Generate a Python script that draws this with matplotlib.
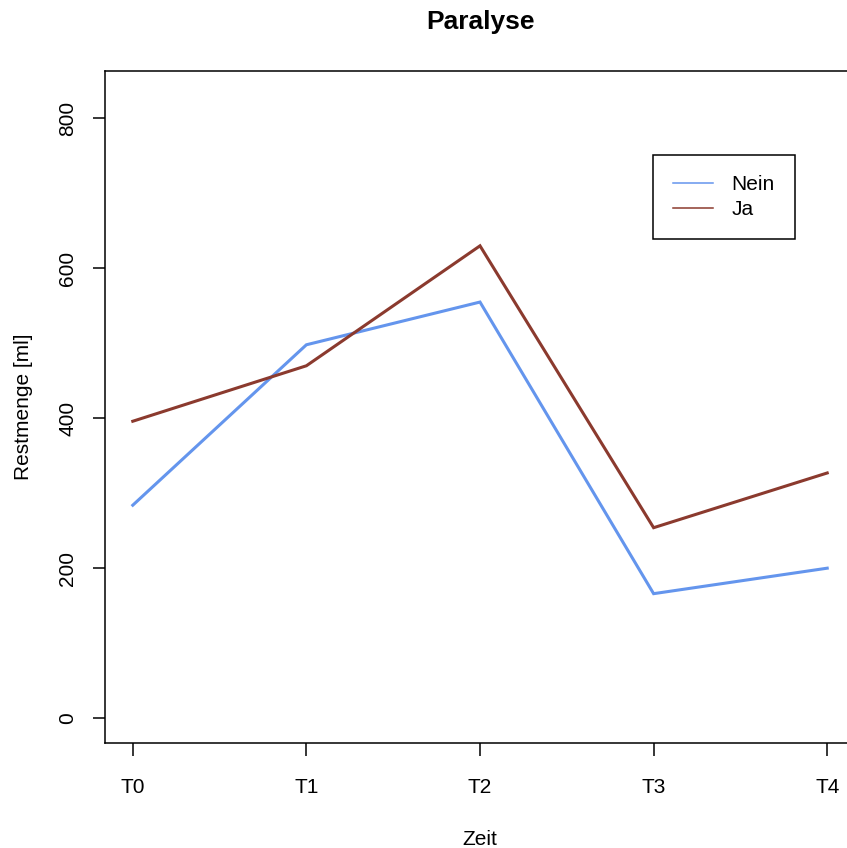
import matplotlib
matplotlib.use("Agg")
import matplotlib.pyplot as plt
from matplotlib.lines import Line2D

plt.rcParams['font.family'] = ['Liberation Sans', 'DejaVu Sans']

zeit = ["T0", "T1", "T2", "T3", "T4"]
nein = [284, 498, 555, 166, 200]
ja = [396, 470, 630, 254, 327]
y_ticks = [0, 200, 400, 600, 800]

col_nein = "#6495ED"
col_ja = "#8B3A2E"

W, H = 847, 848
fig = plt.figure(figsize=(W / 100, H / 100), dpi=100)
ax = fig.add_axes([105 / W, 1 - 743 / H, 750 / W, 672 / H])

x = list(range(len(zeit)))
ax.plot(x, nein, color=col_nein, lw=2.2, solid_joinstyle="miter")
ax.plot(x, ja, color=col_ja, lw=2.2, solid_joinstyle="miter")

# R-style axis limits (4% padding)
ax.set_xlim(-0.16, 4.16)
ax.set_ylim(-33.2, 863.2)

ax.set_xticks(x)
ax.set_xticklabels(zeit, fontsize=15)
ax.set_yticks(y_ticks)
ax.set_yticklabels([str(v) for v in y_ticks], fontsize=15, rotation=90, va="center")
ax.tick_params(axis="both", length=9, width=1.1, direction="out")
ax.tick_params(axis="x", pad=16)
ax.tick_params(axis="y", pad=11)
for s in ax.spines.values():
    s.set_linewidth(1.1)

ax.set_xlabel("Zeit", fontsize=15, labelpad=24)
ax.set_ylabel("Restmenge [ml]", fontsize=15, labelpad=18)
fig.text(480 / W, 1 - 22 / H, "Paralyse", fontsize=19, fontweight="bold",
         ha="center", va="center")

handles = [Line2D([0], [0], color=col_nein, lw=1.1),
           Line2D([0], [0], color=col_ja, lw=1.1)]
leg = ax.legend(handles, ["Nein", "Ja"], loc="upper left",
                bbox_to_anchor=(653 / W, 1 - 155 / H), bbox_transform=fig.transFigure,
                fontsize=15, fancybox=False, framealpha=1, edgecolor="black",
                borderaxespad=0, handlelength=1.92, handletextpad=0.9,
                borderpad=0.95, labelspacing=0.3)
leg.get_frame().set_linewidth(1.1)

fig.savefig("out.png", dpi=100)
